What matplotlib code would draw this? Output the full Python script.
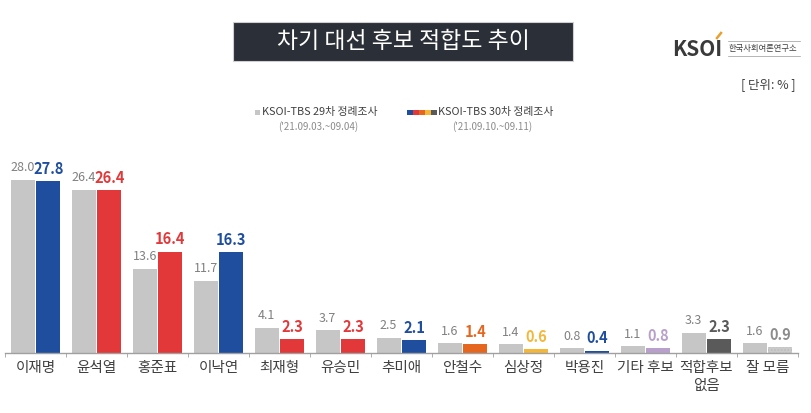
import matplotlib
matplotlib.use("Agg")
import matplotlib.pyplot as plt
import numpy as np
from matplotlib.patches import Rectangle

plt.rcParams['font.family'] = ['Noto Sans CJK KR', 'DejaVu Sans']

# 데이터
categories = ['이재명', '윤석열', '홍준표', '이낙연', '최재형', '유승민', '추미애',
              '안철수', '심상정', '박용진', '기타 후보', '적합후보\n없음', '잘 모름']
prev_vals = [28.0, 26.4, 13.6, 11.7, 4.1, 3.7, 2.5, 1.6, 1.4, 0.8, 1.1, 3.3, 1.6]
curr_vals = [27.8, 26.4, 16.4, 16.3, 2.3, 2.3, 2.1, 1.4, 0.6, 0.4, 0.8, 2.3, 0.9]
prev_label = 'KSOI-TBS 29차 정례조사'
prev_date = "('21.09.03.~09.04)"
curr_label = 'KSOI-TBS 30차 정례조사'
curr_date = "('21.09.10.~09.11)"

BLUE = '#1f4e9e'
RED = '#e2383a'
ORANGE = '#e4661f'
YELLOW = '#f4b73a'
PURPLE = '#b9a0cb'
DGRAY = '#5a5a5a'
LGRAY = '#c6c6c6'
curr_colors = [BLUE, RED, RED, BLUE, RED, RED, BLUE, ORANGE, YELLOW, BLUE, PURPLE, DGRAY, '#cbcbcb']
curr_text_colors = [BLUE, RED, RED, BLUE, RED, RED, BLUE, ORANGE, YELLOW, BLUE, PURPLE, DGRAY, '#8c8c8c']

W, H = 811, 413
fig = plt.figure(figsize=(W / 100, H / 100), dpi=100)
fig.patch.set_facecolor('white')

def fx(px):
    return px / W

def fy(py):
    return 1 - py / H

# 축: 기준선 y=353px, 5~798px
ax_left, ax_right, ax_base, ax_top = 5, 798, 353, 150
ax = fig.add_axes([fx(ax_left), fy(ax_base), (ax_right - ax_left) / W, (ax_base - ax_top) / H])
px_per_unit = 6.18
ax.set_ylim(0, (ax_base - ax_top) / px_per_unit)
n = len(categories)
ax.set_xlim(0, n)

x = np.arange(n) + 0.5
bw = 0.39
gap = 0.016
ax.bar(x - bw / 2 - gap, prev_vals, bw, color=LGRAY, zorder=2)
bars = ax.bar(x + bw / 2 + gap, curr_vals, bw, color=curr_colors, zorder=2)
bars[-1].set_hatch('.....')
bars[-1].set_edgecolor('#bdbdbd')
bars[-1].set_linewidth(0)

for i in range(n):
    ax.annotate(f'{prev_vals[i]:.1f}', (x[i] - bw / 2 - gap, prev_vals[i]),
                xytext=(0, 4), textcoords='offset points', ha='center', va='bottom',
                fontsize=9, color='#808080')
    ax.annotate(f'{curr_vals[i]:.1f}', (x[i] + bw / 2 + gap, curr_vals[i]),
                xytext=(0, 3), textcoords='offset points', ha='center', va='bottom',
                fontsize=10.5, fontweight='bold', color=curr_text_colors[i])

for s in ['top', 'right', 'left']:
    ax.spines[s].set_visible(False)
ax.spines['bottom'].set_color('#a0a0a0')
ax.spines['bottom'].set_linewidth(1)
ax.set_yticks([])
ax.set_xticks(np.arange(n + 1), minor=True)
ax.tick_params(axis='x', which='minor', length=3, color='#a0a0a0', direction='out')
ax.set_xticks(x)
ax.set_xticklabels(categories, fontsize=10.5, color='#404040', linespacing=1.3)
ax.tick_params(axis='x', which='major', length=0, pad=6)

# 제목 박스
fig.patches.append(Rectangle((fx(233), fy(61)), fx(573) - fx(233), fy(22) - fy(61),
                             transform=fig.transFigure, facecolor='#2b2f37',
                             edgecolor='#cfcfcf', linewidth=0.8, zorder=0))
fig.text(fx(403), fy(41.5), '차기 대선 후보 적합도 추이', ha='center', va='center',
         fontsize=16.5, color='white')

# 로고
fig.text(fx(672), fy(49), 'KSOI', ha='left', va='center', fontsize=15,
         fontweight='bold', color='#3a3a3a')
fig.lines.append(plt.Line2D([fx(717), fx(721)], [fy(38), fy(33)], transform=fig.transFigure,
                            color='#e8a030', linewidth=1.8))
fig.text(fx(729), fy(48.5), '한국사회여론연구소', ha='left', va='center', fontsize=6,
         color='#404040')
for yy in (41, 56):
    fig.lines.append(plt.Line2D([fx(728), fx(800)], [fy(yy), fy(yy)], transform=fig.transFigure,
                                color='#999999', linewidth=0.5))

fig.text(fx(796), fy(85), '[ 단위: % ]', ha='right', va='center', fontsize=9, color='#404040')

# 범례
fig.patches.append(Rectangle((fx(255), fy(115)), fx(5), fy(110) - fy(115),
                             transform=fig.transFigure, facecolor=LGRAY, edgecolor='none'))
fig.text(fx(262), fy(112.5), prev_label, ha='left', va='center', fontsize=7.8, color='#404040')
fig.text(fx(318), fy(126.5), prev_date, ha='center', va='center', fontsize=7, color='#8c8c8c')

strip_colors = [BLUE, RED, ORANGE, YELLOW, DGRAY]
for k, c in enumerate(strip_colors):
    fig.patches.append(Rectangle((fx(407 + k * 6), fy(115)), fx(6), fy(110) - fy(115),
                                 transform=fig.transFigure, facecolor=c, edgecolor='none'))
fig.text(fx(438), fy(112.5), curr_label, ha='left', va='center', fontsize=7.8, color='#404040')
fig.text(fx(492), fy(126.5), curr_date, ha='center', va='center', fontsize=7, color='#8c8c8c')

fig.savefig('out.png', dpi=100)
